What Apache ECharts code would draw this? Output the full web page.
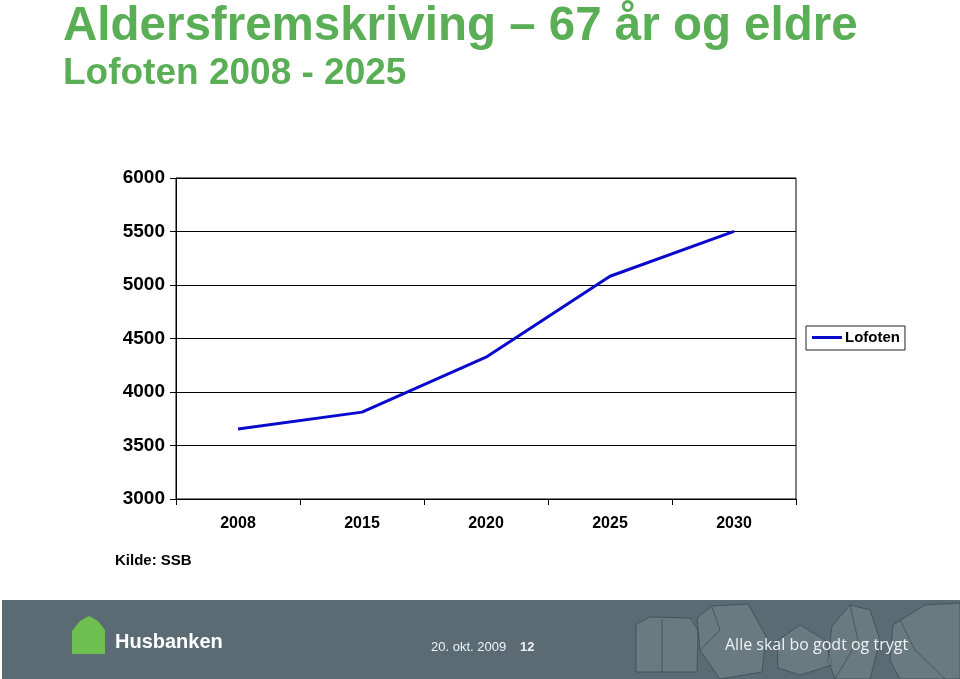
<!DOCTYPE html>
<html>
<head>
<meta charset="utf-8">
<script src="https://cdn.jsdelivr.net/npm/echarts@6/dist/echarts.min.js"></script>
<style>
html,body{margin:0;padding:0;background:#fff;}
#chart{width:960px;height:679px;}
</style>
</head>
<body>
<div id="chart"></div>
<script>
var categories = ['2008', '2015', '2020', '2025', '2030'];
var lofotenValues = [3655, 3812, 4325, 5082, 5502];
var yTicks = [3000, 3500, 4000, 4500, 5000, 5500, 6000];
var seriesName = 'Lofoten';
var titleText = 'Aldersfremskriving \u2013 67 år og eldre';
var subtitleText = 'Lofoten 2008 - 2025';
var sourceText = 'Kilde: SSB';

var chart = echarts.init(document.getElementById('chart'), null, {renderer: 'canvas'});
var F = '"Liberation Sans", Arial, sans-serif';
var green = '#5aae55';
var footerTxt = '#eef2f3';

var houseStroke = 'rgba(45,60,66,0.55)';
var houseFill = 'rgba(255,255,255,0.10)';

chart.setOption({
  animation: false,
  backgroundColor: '#ffffff',
  title: [
    {text: titleText, left: 58, top: -2, textStyle: {fontFamily: F, fontSize: 47.5, fontWeight: 'bold', color: green}},
    {text: subtitleText, left: 58, top: 50, textStyle: {fontFamily: F, fontSize: 37, fontWeight: 'bold', color: green}}
  ],
  grid: {left: 176, right: 164, top: 178, bottom: 180, show: true, borderColor: '#000', borderWidth: 1, backgroundColor: 'transparent'},
  legend: {
    data: [seriesName],
    left: 806, top: 326,
    orient: 'vertical',
    borderColor: '#222', borderWidth: 1,
    padding: [4, 5, 5, 6],
    itemWidth: 30, itemHeight: 3, itemGap: 2,
    icon: 'rect',
    textStyle: {fontFamily: F, fontSize: 15, fontWeight: 'bold', color: '#000', padding: [0, 0, 0, -2]}
  },
  xAxis: {
    type: 'category',
    data: categories,
    boundaryGap: true,
    axisLine: {show: true, lineStyle: {color: '#000', width: 1}},
    axisTick: {show: true, length: 6, lineStyle: {color: '#000'}},
    axisLabel: {fontFamily: F, fontSize: 16, fontWeight: 'bold', color: '#000', margin: 17},
    splitLine: {show: false}
  },
  yAxis: {
    type: 'value',
    min: yTicks[0], max: yTicks[yTicks.length - 1], interval: 500,
    axisLine: {show: true, lineStyle: {color: '#000', width: 1}},
    axisTick: {show: true, length: 6, inside: false, lineStyle: {color: '#000'}},
    axisLabel: {fontFamily: F, fontSize: 19, fontWeight: 'bold', color: '#000', margin: 11,
      formatter: function (v) { return String(v); }},
    splitLine: {show: true, lineStyle: {color: '#000', width: 1}}
  },
  series: [{
    name: seriesName,
    type: 'line',
    data: lofotenValues,
    showSymbol: false,
    symbol: 'none',
    lineStyle: {color: '#0a0acc', width: 3},
    itemStyle: {color: '#0a0acc'}
  }],
  graphic: [
    {type: 'text', left: 115, top: 553, style: {text: sourceText, fontFamily: F, fontSize: 15, fontWeight: 'bold', fill: '#000'}},
    {type: 'rect', shape: {x: 2, y: 600, width: 958, height: 79}, style: {fill: '#5a6b73'}},
    {type: 'polygon', shape: {points: [[636,624],[650,617],[690,618],[698,630],[697,672],[636,672]]}, style: {fill: houseFill, stroke: houseStroke, lineWidth: 1}},
    {type: 'polyline', shape: {points: [[662,619],[662,672]]}, style: {stroke: houseStroke, lineWidth: 1}},
    {type: 'polygon', shape: {points: [[712,606],[748,604],[766,636],[762,672],[720,679],[700,650],[697,618]]}, style: {fill: houseFill, stroke: houseStroke, lineWidth: 1}},
    {type: 'polyline', shape: {points: [[712,607],[720,630],[700,650]]}, style: {stroke: houseStroke, lineWidth: 1}},
    {type: 'polygon', shape: {points: [[777,641],[800,625],[825,640],[832,665],[800,675],[778,668]]}, style: {fill: houseFill, stroke: houseStroke, lineWidth: 1}},
    {type: 'polygon', shape: {points: [[832,626],[850,605],[870,610],[880,640],[870,679],[835,679],[828,660]]}, style: {fill: houseFill, stroke: houseStroke, lineWidth: 1}},
    {type: 'polyline', shape: {points: [[850,605],[858,640],[835,679]]}, style: {stroke: houseStroke, lineWidth: 1}},
    {type: 'polygon', shape: {points: [[893,625],[925,605],[960,603],[960,679],[900,679],[890,660]]}, style: {fill: houseFill, stroke: houseStroke, lineWidth: 1}},
    {type: 'polyline', shape: {points: [[900,620],[915,650],[945,679]]}, style: {stroke: houseStroke, lineWidth: 1}},
    {type: 'polygon', shape: {points: [[72,631],[80,621],[89,616],[98,621],[105,630],[105,654],[72,654]]}, style: {fill: '#6dbf4f'}},
    {type: 'text', left: 115, top: 632, style: {text: 'Husbanken', fontFamily: F, fontSize: 20, fontWeight: 'bold', fill: '#ffffff'}},
    {type: 'text', left: 431, top: 641, style: {text: '20. okt. 2009', fontFamily: F, fontSize: 13, fill: footerTxt}},
    {type: 'text', left: 520, top: 641, style: {text: '12', fontFamily: F, fontSize: 13, fontWeight: 'bold', fill: footerTxt}},
    {type: 'text', left: 725, top: 637, style: {text: 'Alle skal bo godt og trygt', fontFamily: '"Open Sans", sans-serif', fontSize: 16, fill: footerTxt}}
  ]
});
</script>
</body>
</html>
